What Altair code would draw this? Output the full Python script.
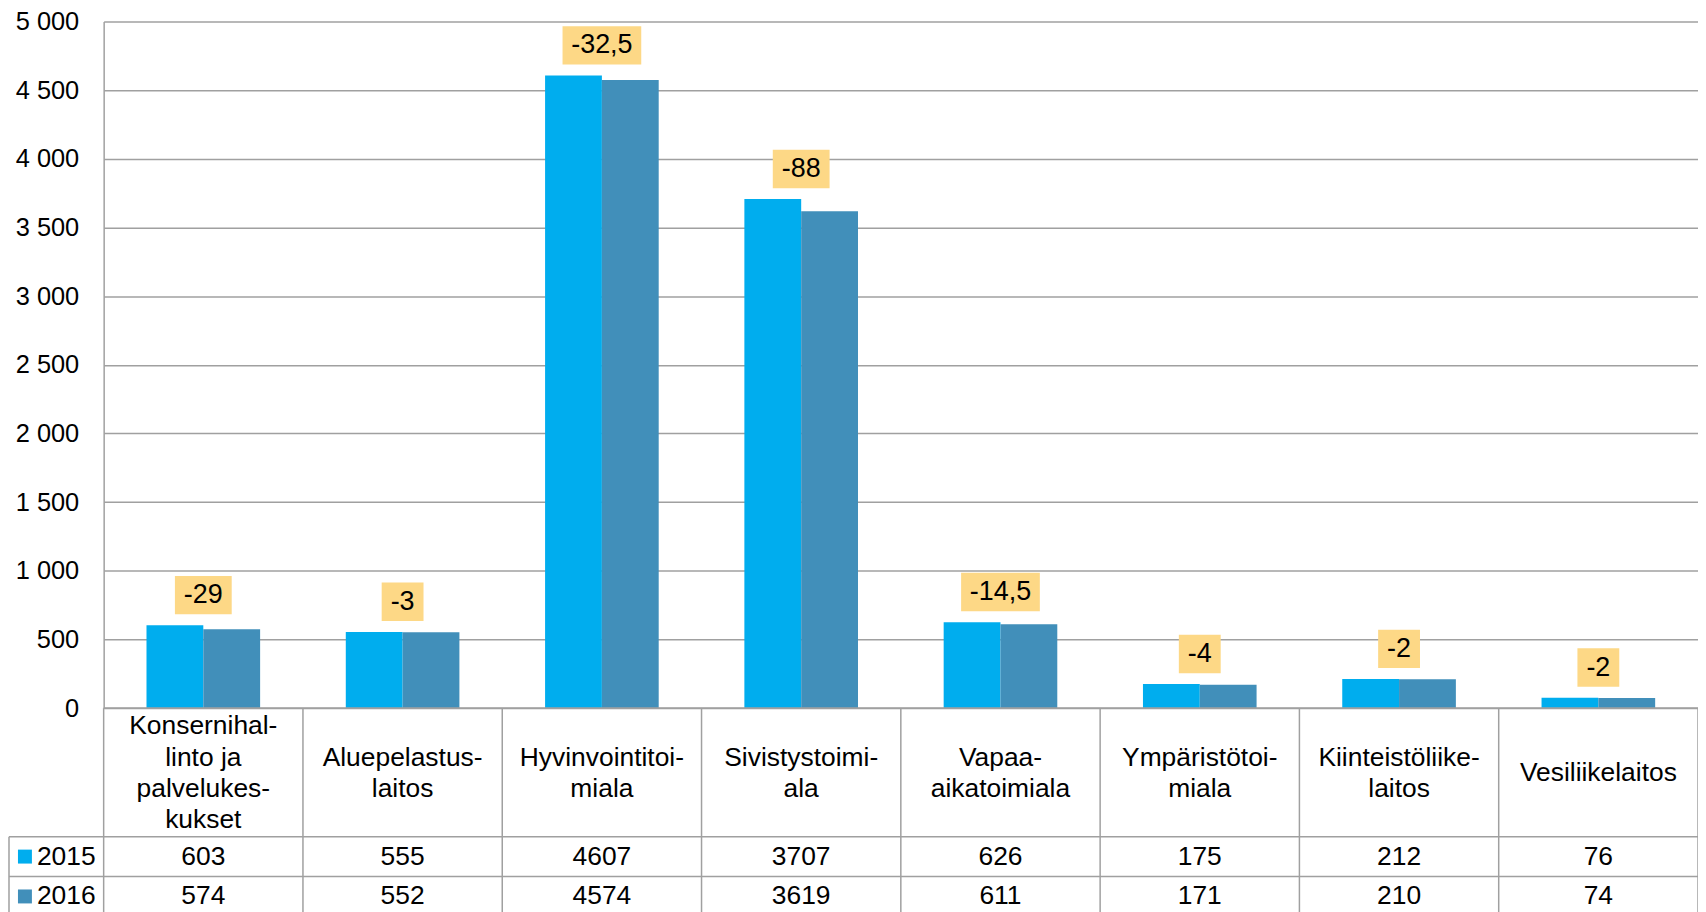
import altair as alt
import pandas as pd

# ---------------- data ----------------
categories = [
    "Konsernihal-\nlinto ja\npalvelukes-\nkukset",
    "Aluepelastus-\nlaitos",
    "Hyvinvointitoi-\nmiala",
    "Sivistystoimi-\nala",
    "Vapaa-\naikatoimiala",
    "Ympäristötoi-\nmiala",
    "Kiinteistöliike-\nlaitos",
    "Vesiliikelaitos",
]
years = ["2015", "2016"]
values_2015 = [603, 555, 4607, 3707, 626, 175, 212, 76]
values_2016 = [574, 552, 4574, 3619, 611, 171, 210, 74]
changes = [-29, -3, -32.5, -88, -14.5, -4, -2, -2]
y_ticks = [0, 500, 1000, 1500, 2000, 2500, 3000, 3500, 4000, 4500, 5000]

# ---------------- styling / layout ----------------
FONT = "Liberation Sans"
COLORS = ["#00ADEE", "#418FBA"]
BOX_COLOR = "#FDD886"
LINE = "#A0A0A0"
W, H = 1600, 689
ROW1 = H + 129          # top of 2015 row
ROW2 = ROW1 + 40        # top of 2016 row
TBOT = ROW2 + 45        # table bottom (cut by the page)
LEG_LEFT = -95
LH = 31.5               # line height of category labels
TFS = 26.5              # table font size
U = 5000 / H            # value units per pixel
GAP_PX, BOX_PX = 11, 38.5
BOX_W = {2: 42, 3: 57, 5: 79}

bars_df = pd.DataFrame({
    "cat": categories * 2,
    "year": [years[0]] * len(categories) + [years[1]] * len(categories),
    "value": values_2015 + values_2016,
})
lab_df = pd.DataFrame({
    "cat": categories,
    "change": changes,
    "v2015": values_2015,
    "v2016": values_2016,
})

xscale = alt.Scale(domain=categories, paddingInner=0, paddingOuter=0)
cscale = alt.Scale(domain=years, range=COLORS)


def xcat(**kw):
    return alt.X("cat:N", scale=xscale, axis=None, **kw)


bars = alt.Chart(bars_df).mark_bar().encode(
    x=xcat(),
    xOffset=alt.XOffset("year:N", scale=alt.Scale(domain=years, paddingInner=0, paddingOuter=0.754)),
    y=alt.Y(
        "value:Q",
        scale=alt.Scale(domain=[0, 5000], nice=False),
        axis=alt.Axis(
            values=y_ticks, title=None, ticks=False, labelPadding=25,
            labelFontSize=25.5, labelFont=FONT, labelColor="black",
            gridColor=LINE, gridWidth=1.5, domainColor=LINE, domainWidth=1.5,
            labelExpr="replace(format(datum.value, ','), ',', ' ')",
        ),
    ),
    color=alt.Color("year:N", scale=cscale, legend=None),
)

lab_base = alt.Chart(lab_df).transform_calculate(
    label="replace(toString(datum.change), '.', ',')",
    lo=f"max(datum.v2015, datum.v2016) + {GAP_PX * U}",
    hi=f"max(datum.v2015, datum.v2016) + {(GAP_PX + BOX_PX) * U}",
    mid=f"max(datum.v2015, datum.v2016) + {(GAP_PX + BOX_PX / 2) * U}",
    n="length(replace(toString(datum.change), '.', ','))",
)

boxes = [
    lab_base.transform_filter(f"datum.n == {n}").mark_bar(width=w, color=BOX_COLOR).encode(
        x=xcat(),
        y=alt.Y("lo:Q", title=None),
        y2="hi:Q",
    )
    for n, w in BOX_W.items()
]

box_text = lab_base.mark_text(fontSize=27, font=FONT, color="black", baseline="middle").encode(
    x=xcat(),
    y=alt.Y("mid:Q", title=None),
    text="label:N",
)

# ---------------- table below the plot ----------------
one = pd.DataFrame({"k": [0]})
cat_df = pd.DataFrame({"cat": categories})

vlines = alt.Chart(cat_df).mark_rule(color=LINE, strokeWidth=1.5).encode(
    x=xcat(bandPosition=0), y=alt.value(H), y2=alt.value(TBOT)
)
frame = [
    alt.Chart(one).mark_rule(color=LINE, strokeWidth=1.5).encode(
        x=alt.value(W), y=alt.value(H), y2=alt.value(TBOT)),
    alt.Chart(one).mark_rule(color=LINE, strokeWidth=1.5).encode(
        x=alt.value(LEG_LEFT), y=alt.value(ROW1), y2=alt.value(TBOT)),
    alt.Chart(one).mark_rule(color=LINE, strokeWidth=1.5).encode(
        x=alt.value(0), x2=alt.value(W), y=alt.value(H)),
    alt.Chart(one).mark_rule(color=LINE, strokeWidth=1.5).encode(
        x=alt.value(LEG_LEFT), x2=alt.value(W), y=alt.value(ROW1)),
    alt.Chart(one).mark_rule(color=LINE, strokeWidth=1.5).encode(
        x=alt.value(LEG_LEFT), x2=alt.value(W), y=alt.value(ROW2)),
]

cat_mid = (H + ROW1) / 2 + 1
cat_text = [
    alt.Chart(cat_df).transform_calculate(
        nl="length(split(datum.cat, '\\n'))"
    ).transform_filter(f"datum.nl == {nl}").mark_text(
        fontSize=TFS, font=FONT, color="black", lineBreak="\n", lineHeight=LH, baseline="middle"
    ).encode(x=xcat(), y=alt.value(cat_mid - (nl - 1) * LH / 2), text="cat:N")
    for nl in (1, 2, 4)
]

row_texts = [
    alt.Chart(bars_df).transform_filter(f"datum.year == '{yr}'").mark_text(
        fontSize=TFS, font=FONT, color="black", baseline="middle"
    ).encode(x=xcat(), y=alt.value(top + 20), text="value:Q")
    for yr, top in zip(years, [ROW1, ROW2])
]

year_df = pd.DataFrame({"year": years})
leg_sq = [
    alt.Chart(year_df).transform_filter(f"datum.year == '{yr}'").mark_square(
        size=196, filled=True, opacity=1
    ).encode(
        x=alt.value(LEG_LEFT + 16), y=alt.value(top + 20),
        color=alt.Color("year:N", scale=cscale, legend=None),
    )
    for yr, top in zip(years, [ROW1, ROW2])
]
leg_txt = [
    alt.Chart(year_df).transform_filter(f"datum.year == '{yr}'").mark_text(
        fontSize=TFS, font=FONT, color="black", baseline="middle", align="left"
    ).encode(x=alt.value(LEG_LEFT + 28), y=alt.value(top + 20), text="year:N")
    for yr, top in zip(years, [ROW1, ROW2])
]

chart = alt.layer(
    bars, *boxes, box_text, vlines, *frame, *cat_text, *row_texts, *leg_sq, *leg_txt
).properties(
    width=W, height=H,
    autosize=alt.AutoSizeParams(type="none"),
    padding={"left": 96, "top": 12, "right": 0, "bottom": 203},
).configure(font=FONT).configure_view(stroke=None)

chart.save("out.html", embed_options={"renderer": "svg", "actions": False})
